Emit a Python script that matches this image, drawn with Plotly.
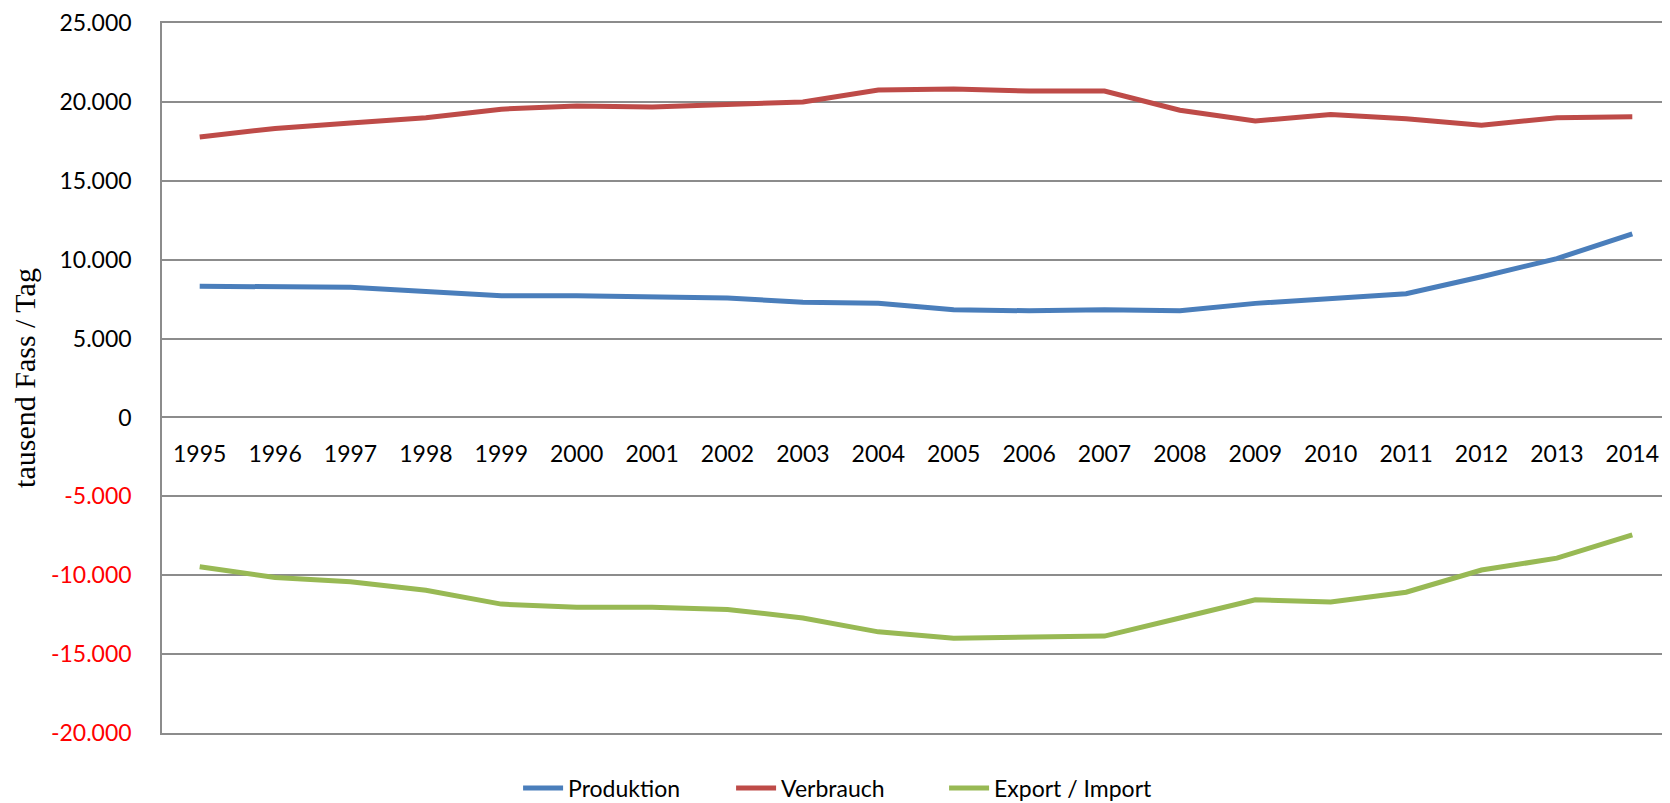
import plotly.graph_objects as go

years = [str(y) for y in range(1995, 2015)]
produktion = [8315, 8250, 8250, 7980, 7710, 7710, 7640, 7570, 7300, 7230,
              6830, 6760, 6830, 6760, 7230, 7500, 7840, 8920, 10070, 11630]
verbrauch = [17780, 18320, 18660, 19000, 19540, 19740, 19670, 19800, 20000, 20750,
             20820, 20690, 20690, 19470, 18790, 19200, 18930, 18520, 19000, 19060]
export_import = [-9460, -10140, -10410, -10950, -11830, -12030, -12030, -12170, -12710, -13590,
                 -13990, -13930, -13860, -12710, -11560, -11690, -11080, -9670, -8920, -7440]

series_names = ["Produktion", "Verbrauch", "Export / Import"]
series_colors = ["#4A7EBB", "#BE4B48", "#98B954"]

y_tickvals = [25000, 20000, 15000, 10000, 5000, 0, -5000, -10000, -15000, -20000]


def fmt(v):
    s = f"{abs(v):,}".replace(",", ".")
    if v < 0:
        return f"<span style='color:#FF0000'>-{s}</span>"
    return s


y_ticktext = [fmt(v) for v in y_tickvals]

fig = go.Figure()
for name, vals, col in zip(series_names, [produktion, verbrauch, export_import], series_colors):
    fig.add_trace(go.Scatter(x=years, y=vals, mode="lines", name=name,
                             line=dict(color=col, width=5)))

# invisible helper traces on extra x-axes that draw the frame lines at bottom/top
for ax in ["x2", "x3"]:
    fig.add_trace(go.Scatter(x=years, y=verbrauch, xaxis=ax, mode="lines",
                             line=dict(color="rgba(0,0,0,0)", width=0),
                             showlegend=False, hoverinfo="skip"))

grid_col = "#8C8C8C"
frame_axis = dict(type="category", overlaying="x", anchor="y",
                  range=[-0.5, len(years) - 0.5],
                  showgrid=False, zeroline=False, showticklabels=False, ticks="",
                  showline=True, mirror=False, linecolor=grid_col, linewidth=1.5)

fig.update_layout(
    width=1662, height=795,
    margin=dict(l=154, r=0, t=15, b=70, autoexpand=False),
    paper_bgcolor="white", plot_bgcolor="white",
    font=dict(family="Lato", size=23, color="black"),
    showlegend=True,
    legend=dict(orientation="h", x=0.448, xanchor="center", y=-0.0775, yanchor="middle",
                font=dict(family="Lato", size=23, color="black"),
                itemwidth=40, entrywidth=158, tracegroupgap=0),
    xaxis=dict(type="category", anchor="free", position=20000 / 45000,
               range=[-0.5, len(years) - 0.5],
               showgrid=False, showline=False, zeroline=False,
               ticks="outside", ticklen=16, tickcolor="rgba(0,0,0,0)",
               tickfont=dict(family="Lato", size=23, color="black")),
    xaxis2=dict(frame_axis, side="bottom"),
    xaxis3=dict(frame_axis, side="top"),
    yaxis=dict(range=[-20000, 25000], tickvals=y_tickvals, ticktext=y_ticktext,
               showgrid=True, gridcolor=grid_col, gridwidth=1.5,
               zeroline=False, showline=True, linecolor=grid_col, linewidth=1.5,
               ticks="outside", ticklen=24, tickcolor="rgba(0,0,0,0)",
               tickfont=dict(family="Lato", size=23, color="black"),
               title=dict(text="tausend Fass / Tag", standoff=18,
                          font=dict(family="Liberation Serif", size=30, color="black"))),
)

fig.write_html("out.html")
